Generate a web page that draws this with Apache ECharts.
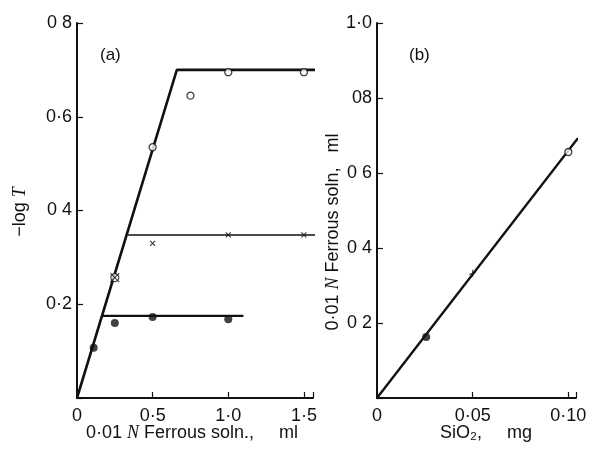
<!DOCTYPE html>
<html><head><meta charset="utf-8">
<script src="https://cdn.jsdelivr.net/npm/echarts@6/dist/echarts.min.js"></script>
<style>html,body{margin:0;padding:0;background:#fff}#c{width:592px;height:452px}</style>
</head><body><div id="c"></div>
<script>
// Panel (a) data: x = 0.01N ferrous soln (ml), y = -log T
const aOpen = [[0.5,0.535],[0.75,0.645],[1.0,0.695],[1.5,0.695]];
const aCross = [[0.5,0.33],[1.0,0.348],[1.5,0.348]];
const aStar = [[0.25,0.257]];
const aFilled = [[0.11,0.107],[0.25,0.16],[0.5,0.173],[1.0,0.168]];
const aLineOpen = [[0,0],[0.66,0.70],[1.58,0.70]];
const aLineCross = [[0.335,0.348],[1.6,0.348]];
const aLineFilled = [[0.165,0.175],[1.1,0.175]];
const aXTicks = [0,0.5,1.0,1.5];
const aXLabels = ['0','0·5','1·0','1·5'];
const aYTicks = [0.2,0.4,0.6,0.8];
const aYLabels = ['0·2','0 4','0·6','0 8'];
// Panel (b) data: x = SiO2 (mg), y = 0.01N ferrous soln (ml)
const bOpen = [[0.10,0.656]];
const bCross = [[0.05,0.333]];
const bFilled = [[0.0257,0.163]];
const bLine = [[0,0],[0.105,0.693]];
const bXTicks = [0,0.05,0.10];
const bXLabels = ['0','0·05','0·10'];
const bYTicks = [0.2,0.4,0.6,0.8,1.0];
const bYLabels = ['0 2','0 4','0 6','08','1·0'];

function fmt(ticks, labels){
  return function(v){
    for (let i=0;i<ticks.length;i++){ if (Math.abs(v-ticks[i])<1e-9) return labels[i]; }
    return '';
  };
}
const FONT = 'Liberation Sans';
const black = '#111';
const crossPath = 'path://M0,0L10,10M10,0L0,10';
function axisCommon(){
  return {
    axisLine:{show:true,onZero:false,lineStyle:{color:black,width:2}},
    axisTick:{show:true,inside:true,length:6,lineStyle:{color:black,width:1.2}},
    splitLine:{show:false}
  };
}
const F = '18px "Liberation Sans"';
const FI = 'italic 18px "Liberation Serif"';
const option = {
  animation:false,
  backgroundColor:'#fff',
  grid:[
    {left:77,top:23,width:236,height:375},
    {left:377,top:23,width:199,height:375}
  ],
  xAxis:[
    Object.assign(axisCommon(),{gridIndex:0,type:'value',min:0,max:1.56,interval:0.5,
      axisLabel:{color:black,fontFamily:FONT,fontSize:18,margin:9,formatter:fmt(aXTicks,aXLabels)}}),
    Object.assign(axisCommon(),{gridIndex:1,type:'value',min:0,max:0.104,interval:0.05,
      axisLabel:{color:black,fontFamily:FONT,fontSize:18,margin:9,formatter:fmt(bXTicks,bXLabels)}})
  ],
  yAxis:[
    Object.assign(axisCommon(),{gridIndex:0,type:'value',min:0,max:0.8,interval:0.2,
      axisLabel:{color:black,fontFamily:FONT,fontSize:18,margin:5,formatter:fmt(aYTicks,aYLabels)}}),
    Object.assign(axisCommon(),{gridIndex:1,type:'value',min:0,max:1.0,interval:0.2,
      axisLabel:{color:black,fontFamily:FONT,fontSize:18,margin:5,formatter:fmt(bYTicks,bYLabels)}})
  ],
  series:[
    {type:'line',xAxisIndex:0,yAxisIndex:0,data:aLineOpen,symbol:'none',lineStyle:{color:black,width:2.6},z:2},
    {type:'line',xAxisIndex:0,yAxisIndex:0,data:aLineCross,symbol:'none',lineStyle:{color:black,width:1.5},z:2},
    {type:'line',xAxisIndex:0,yAxisIndex:0,data:aLineFilled,symbol:'none',lineStyle:{color:black,width:2.2},z:2},
    {type:'scatter',xAxisIndex:0,yAxisIndex:0,data:aOpen,symbol:'circle',symbolSize:7,
      itemStyle:{color:'#fff',borderColor:black,borderWidth:1.3},z:5},
    {type:'scatter',xAxisIndex:0,yAxisIndex:0,data:aCross,symbol:crossPath,symbolSize:5,
      itemStyle:{color:'none',borderColor:black,borderWidth:1.2},z:5},
    {type:'scatter',xAxisIndex:0,yAxisIndex:0,data:aStar,symbol:'circle',symbolSize:8,
      itemStyle:{color:'#fff',borderColor:black,borderWidth:1.2},z:5},
    {type:'scatter',xAxisIndex:0,yAxisIndex:0,data:aStar,symbol:crossPath,symbolSize:9,
      itemStyle:{color:'none',borderColor:black,borderWidth:1.1},z:6},
    {type:'scatter',xAxisIndex:0,yAxisIndex:0,data:aFilled,symbol:'circle',symbolSize:8,
      itemStyle:{color:black},z:5},
    {type:'line',xAxisIndex:1,yAxisIndex:1,data:bLine,symbol:'none',lineStyle:{color:black,width:2.4},z:2},
    {type:'scatter',xAxisIndex:1,yAxisIndex:1,data:bOpen,symbol:'circle',symbolSize:7,
      itemStyle:{color:'#fff',borderColor:black,borderWidth:1.3},z:5},
    {type:'scatter',xAxisIndex:1,yAxisIndex:1,data:bCross,symbol:'path://M5,0L5,10M0,7L10,3',symbolSize:7,
      itemStyle:{color:'none',borderColor:black,borderWidth:1.1},z:5},
    {type:'scatter',xAxisIndex:1,yAxisIndex:1,data:bFilled,symbol:'circle',symbolSize:8,
      itemStyle:{color:black},z:5}
  ],
  graphic:[
    {type:'text',left:100,top:47,style:{text:'(a)',font:'17px "Liberation Sans"',fill:black}},
    {type:'text',left:409,top:47,style:{text:'(b)',font:'17px "Liberation Sans"',fill:black}},
    {type:'text',x:20,y:212,rotation:Math.PI/2,
      style:{text:'{n|−log }{i|T}',align:'center',verticalAlign:'middle',
        rich:{n:{font:F,fill:black},i:{font:FI,fill:black}}}},
    {type:'text',x:192,y:433,
      style:{text:'{n|0·01 }{i|N}{n| Ferrous soln.,     ml}',align:'center',verticalAlign:'middle',
        rich:{n:{font:F,fill:black},i:{font:FI,fill:black}}}},
    {type:'text',x:333,y:232,rotation:Math.PI/2,
      style:{text:'{n|0·01 }{i|N}{n| Ferrous soln,   ml}',align:'center',verticalAlign:'middle',
        rich:{n:{font:F,fill:black},i:{font:FI,fill:black}}}},
    {type:'text',x:486,y:433,
      style:{text:'SiO₂,     mg',align:'center',verticalAlign:'middle',font:F,fill:black}}
  ]
};
const chart = echarts.init(document.getElementById('c'),null,{renderer:'canvas'});
chart.setOption(option);
</script>
</body></html>
